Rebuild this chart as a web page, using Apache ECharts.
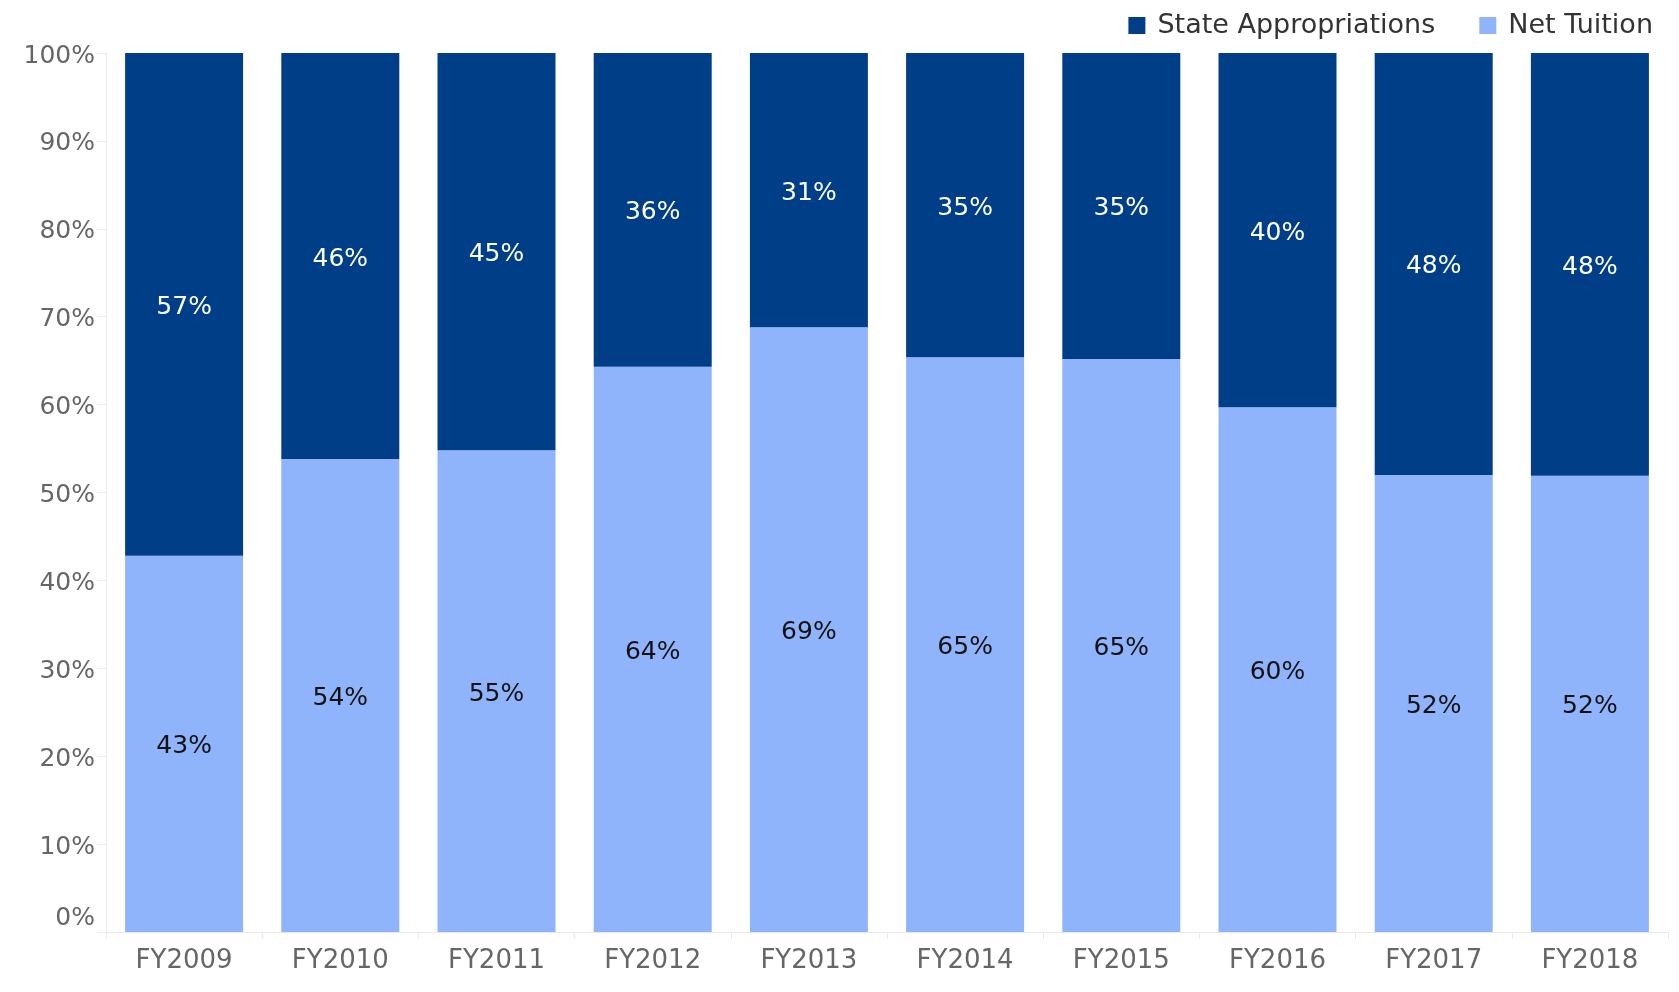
<!DOCTYPE html>
<html>
<head>
<meta charset="utf-8">
<script src="https://cdn.jsdelivr.net/npm/echarts@6/dist/echarts.min.js"></script>
<style>
  html, body { margin: 0; padding: 0; background: #fff; }
  #chart { width: 1679px; height: 992px; }
</style>
</head>
<body>
<div id="chart"></div>
<script>
// fiscal years
var years = ['FY2009', 'FY2010', 'FY2011', 'FY2012', 'FY2013', 'FY2014', 'FY2015', 'FY2016', 'FY2017', 'FY2018'];
// share of revenue (%)
var netTuition = [42.8, 53.8, 54.8, 64.3, 68.8, 65.4, 65.2, 59.7, 52.0, 51.9];
var stateAppropriations = [57.2, 46.2, 45.2, 35.7, 31.2, 34.6, 34.8, 40.3, 48.0, 48.1];

var myChart = echarts.init(document.getElementById('chart'));
var fontFamily = 'DejaVu Sans';

var option = {
  backgroundColor: '#fff',
  animation: false,
  color: ['#90b4fc', '#003f88'],
  textStyle: { fontFamily: fontFamily },
  legend: {
    data: ['State Appropriations', 'Net Tuition'],
    right: 21,
    top: 7,
    itemWidth: 17,
    itemHeight: 17,
    itemGap: 44,
    icon: 'rect',
    textStyle: { fontSize: 27, color: '#333', fontFamily: fontFamily, padding: [0, 0, 0, 7] },
  },
  grid: {
    left: 106,
    right: 11,
    top: 53,
    bottom: 60,
  },
  xAxis: {
    type: 'category',
    data: years,
    axisLine: { lineStyle: { color: '#e8e8e8', width: 1 } },
    axisTick: { show: true, alignWithLabel: false, length: 7, lineStyle: { color: '#e8e8e8' } },
    axisLabel: { fontSize: 26, color: '#666', margin: 16, fontFamily: fontFamily },
  },
  yAxis: {
    type: 'value',
    min: 0,
    max: 100,
    interval: 10,
    axisLine: { show: true, lineStyle: { color: '#ebebeb' } },
    axisTick: { show: true, length: 9, lineStyle: { color: '#ebebeb' } },
    splitLine: { show: false },
    axisLabel: {
      fontSize: 25,
      color: '#666',
      margin: 11,
      fontFamily: fontFamily,
      padding: [6, 0, 0, 0],
      formatter: function (v) {
        return v === 0 ? '{zero|0%}' : v + '%';
      },
      rich: {
        zero: { fontSize: 25, color: '#666', fontFamily: fontFamily, padding: [0, 0, 34, 0] },
      },
    },
  },
  series: [
    {
      name: 'Net Tuition',
      type: 'bar',
      stack: 'total',
      barWidth: 118,
      data: netTuition,
      label: {
        show: true,
        position: 'inside',
        offset: [0, 3],
        fontSize: 25,
        color: '#111',
        fontFamily: fontFamily,
        formatter: function (p) { return Math.round(p.value) + '%'; },
      },
    },
    {
      name: 'State Appropriations',
      type: 'bar',
      stack: 'total',
      barWidth: 118,
      data: stateAppropriations,
      label: {
        show: true,
        position: 'inside',
        offset: [0, 3],
        fontSize: 25,
        color: '#fff',
        fontFamily: fontFamily,
        formatter: function (p) { return Math.round(p.value) + '%'; },
      },
    },
  ],
};

myChart.setOption(option);
</script>
</body>
</html>
